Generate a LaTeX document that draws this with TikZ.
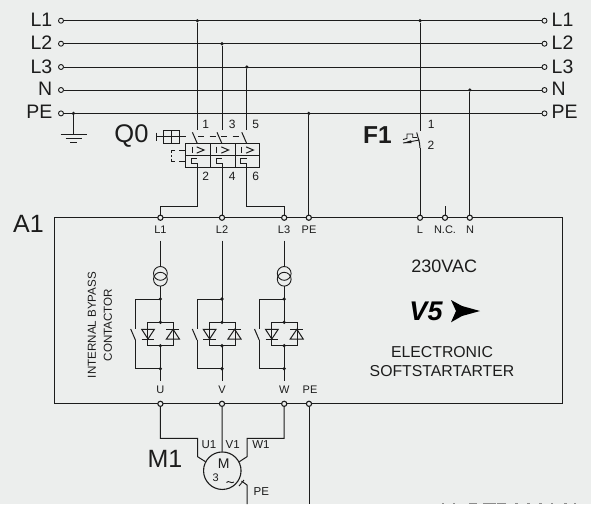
\documentclass[tikz,border=0pt]{standalone}
\usepackage{fontspec}
\setmainfont{Liberation Sans}
\definecolor{bgc}{HTML}{ECEEED}
\definecolor{ink}{HTML}{1C1C1C}
\tikzset{
 x=1pt,y=-1pt,
 wire/.style={draw=ink,line width=1pt},
 thin wire/.style={draw=ink,line width=.9pt},
 busL/.style={anchor=east,font=\fontsize{19.5}{19.5}\selectfont,text=ink,inner sep=0},
 busR/.style={anchor=west,font=\fontsize{19.5}{19.5}\selectfont,text=ink,inner sep=0},
 term/.style={circle,draw=ink,line width=.9pt,fill=bgc,minimum size=5pt,inner sep=0},
 sterm/.style={circle,draw=ink,line width=1.1pt,fill=bgc,minimum size=5.2pt,inner sep=0},
 jn/.style={circle,fill=ink,minimum size=3.6pt,inner sep=0},
 lab/.style={font=\fontsize{12}{12}\selectfont,text=ink,inner sep=0},
 tiny/.style={font=\fontsize{11}{11}\selectfont,text=ink,inner sep=0},
 big/.style={font=\fontsize{25}{25}\selectfont,text=ink,inner sep=0},
}
\begin{document}
\begin{tikzpicture}
\fill[bgc] (0,0) rectangle (591,504);
\useasboundingbox (0,0) rectangle (591,504);
% bus
\foreach \n/\y/\t/\o in {a/20.7/L1/0.7,b/43.7/L2/0.7,c/67/L3/0.5,d/90/N/1.7,e/113.4/PE/1.7}{
 \node[term] (\n l) at (61,\y) {};
 \node[term] (\n r) at (544.5,\y) {};
 \draw[wire] (\n l) -- (\n r);
 \node[busL] at (52.5,\y-\o) {\t};
 \node[busR] at (551.5,\y-\o) {\t};
}
% earth
\node[jn] (ej) at (73.4,113.4) {};
\coordinate (eg) at (73.4,134.5);
\draw[wire] (ej) -- (eg);
\draw[wire] (60.7,134.5) -- (86.7,134.5);
\draw[wire] (65.7,138.7) -- (81.7,138.7);
\draw[wire] (70,142.8) -- (77.3,142.8);
% Q0 feeds
\node[jn] (j1) at (197.4,20.7) {};
\node[jn] (j2) at (222,43.7) {};
\node[jn] (j3) at (246.8,67) {};
\coordinate (q1) at (197.4,130); \coordinate (q2) at (222,130); \coordinate (q3) at (246.8,130);
\draw[wire] (j1)--(q1); \draw[wire] (j2)--(q2); \draw[wire] (j3)--(q3);
% switches
\foreach \x in {197.4,222,246.8}{
 \draw[wire] (\x-5,132.3) -- (\x,143.7);
}
\draw[wire,dash pattern=on 6pt off 5.5pt] (198,136.8) -- (244,136.8);
\draw[wire] (156.8,132.7) -- (156.8,140.9);
\draw[wire] (156.8,136.8) -- (186,136.8);
\draw[wire] (163.3,130.7) rectangle (179,143.2);
\draw[wire] (171.2,130.7) -- (171.2,143.2);
% Q0 box
\draw[wire] (185,143.7) rectangle (259.3,167);
\draw[wire] (185,155.3) -- (259.3,155.3);
\draw[wire] (210,143.7) -- (210,167);
\draw[wire] (235,143.7) -- (235,167);
\foreach \x in {0,24.6,49.4}{
 \draw[wire] (192.3+\x,146.7)--(192.3+\x,153.3);
 \draw[wire] (196.7+\x,146.9)--(204+\x,150)--(196.7+\x,153.1);
 \draw[wire] (197.4+\x,167)--(197.4+\x,163.8)--(191.5+\x,163.8)--(191.5+\x,158.5)--(197.4+\x,158.5);
}
\draw[wire] (185,150)--(178.5,150);
\draw[wire] (185,161)--(178.5,161);
\draw[wire] (175,150)--(171,150)--(171,152.5);
\draw[wire] (171,155)--(171,157);
\draw[wire] (171,158.7)--(171,161)--(175,161);
% labels
\node[lab] at (205.8,124) {1};
\node[lab] at (232.3,124) {3};
\node[lab] at (255.8,124) {5};
\node[lab] at (205.8,176) {2};
\node[lab] at (232.3,176) {4};
\node[lab] at (255.8,176) {6};
\node[big,font=\fontsize{25.5}{25.5}\selectfont] at (131.5,136) {Q0};
\node[big,font=\bfseries\fontsize{24.5}{24.5}\selectfont] at (377.5,135) {F1};
\node[big] at (28.5,224) {A1};
\node[big] at (165,458.5) {M1};
% A1 box
\draw[wire] (54.3,217.7) -- (562.8,217.7) -- (562.8,403.8) -- (54.3,403.8) -- cycle;
% terminals top
\node[sterm] (tl1) at (160.4,217.7) {};
\node[sterm] (tl2) at (222,217.7) {};
\node[sterm] (tl3) at (284.2,217.7) {};
\node[sterm] (tpe) at (308.8,217.7) {};
\node[sterm] (tl) at (420,217.7) {};
\node[sterm] (tnc) at (445,217.7) {};
\node[sterm] (tn) at (469.8,217.7) {};
\draw[wire] (197.4,167) -- (197.4,206.5) -- (160.4,206.5) -- (tl1);
\draw[wire] (222,167) -- (tl2);
\draw[wire] (246.8,167) -- (246.8,206.5) -- (284.2,206.5) -- (tl3);
\node[jn] (jpe) at (308.8,113.4) {};
\draw[wire] (jpe) -- (tpe);
% F1
\node[jn] (jf) at (420,20.7) {};
\node[jn] (jn) at (469.8,90) {};
\draw[wire] (jf) -- (420,131);
\draw[wire] (tl) -- (420,148);
\draw[wire] (420,148) -- (419.5,143) -- (416.7,132.5);
\draw[wire] (tn) -- (jn);
\draw[wire] (tnc) -- (445,206);
\draw[thin wire] (403,139.5)--(407,138.5)--(407,134)--(412.7,134)--(412.7,137.5)--(417,137.5);
\draw[thin wire] (403,143)--(419.5,140);
\fill[ink] (404,143)--(411,140.2)--(411.5,143)--cycle;
\node[lab] at (431.3,124.7) {1};
\node[lab] at (431,145.7) {2};
\node[tiny] at (160.4,230) {L1};
\node[tiny] at (222,230) {L2};
\node[tiny] at (284,230) {L3};
\node[tiny] at (309,230) {PE};
\node[tiny] at (420,230) {L};
\node[tiny] at (445,230) {N.C.};
\node[tiny] at (470,230) {N};
% power units
\foreach \x/\l in {160.4/U,222/V,284.2/W}{
 \draw[wire] (\x,299) -- (\x,322.3);
 \draw[wire] (\x,345.7) -- (\x,381);
 \draw[wire] (\x,299) -- (\x-25,299) -- (\x-25,329.3);
 \draw[wire] (\x-25,340) -- (\x-25,368.7) -- (\x,368.7);
 \draw[wire] (\x-29.7,329) -- (\x-25,340);
 \node[jn] at (\x,299) {};
 \node[jn] at (\x,322.3) {};
 \node[jn] at (\x,345.7) {};
 \node[jn] at (\x,368.7) {};
 \draw[wire] (\x-13,322.3) -- (\x+13,322.3) -- (\x+13,345.7) -- (\x-13,345.7) -- cycle;
 \draw[wire] (\x-18.7,329.3) -- (\x-6,329.3) -- (\x-12.4,339) -- cycle;
 \draw[wire] (\x-18.7,339) -- (\x-6,339);
 \draw[wire] (\x+6,339) -- (\x+19,339) -- (\x+12.7,329.3) -- cycle;
 \draw[wire] (\x+6,329.3) -- (\x+19,329.3);
 \node[tiny] at (\x,390) {\l};
}
\draw[wire] (222,240.5) -- (222,299);
% current transformers on L1 and L3
\foreach \x in {160.4,284.2}{
 \draw[wire] (\x,240.5) -- (\x,266.5);
 \draw[wire] (\x,286) -- (\x,299);
 \draw[thin wire] (\x,273.4) circle (6.9);
 \draw[thin wire] (\x,279.2) circle (6.9);
}
\node[font=\fontsize{11.6}{16}\selectfont,text=ink,inner sep=0,align=center,rotate=90] at (100,325) {INTERNAL BYPASS\\CONTACTOR};
\node[font=\fontsize{18}{18}\selectfont,text=ink,inner sep=0] at (444.3,266.7) {230VAC};
\node[font=\bfseries\itshape\fontsize{27}{27}\selectfont,text=black,inner sep=0] at (426,311) {V5};
\fill[black] (451,300) -- (462,306) -- (480,311) -- (462,316) -- (451,322.3) -- (456,311) -- cycle;
\node[font=\fontsize{15.8}{18.7}\selectfont,text=ink,inner sep=0,align=center] at (442,361.5) {ELECTRONIC\\SOFTSTARTARTER};
\node[tiny] at (310,390) {PE};
% bottom terminals
\node[sterm] (bu) at (160.4,403.8) {};
\node[sterm] (bv) at (222,403.8) {};
\node[sterm] (bw) at (284.2,403.8) {};
\node[sterm] (bpe) at (309,403.8) {};
% motor
\node[circle,draw=ink,line width=1.1pt,minimum size=37.5pt,inner sep=0] (m) at (222.3,470.7) {};
\node[font=\fontsize{14}{14}\selectfont,text=ink,inner sep=0] at (223.7,464) {M};
\node[tiny] at (215.7,477.3) {3};
\draw[thin wire] (226.5,482.5) .. controls (229,479.5) and (231,484.5) .. (234,482);
\draw[wire] (bu) -- (160.4,438.3) -- (197.6,438.3) -- (197.6,456.7) -- (205.5,461.7);
\draw[wire] (bv) -- (m);
\draw[wire] (bw) -- (284.2,438.3) -- (247,438.3) -- (247,456.7) -- (239.3,461.7);
\draw[wire] (241.5,481) -- (247,485) -- (247,504);
\draw[thin wire] (239,486) -- (244,480);
\draw[wire] (bpe) -- (309,504);
\node[tiny,font=\fontsize{11.5}{11.5}\selectfont] at (209,445) {U1};
\node[tiny,font=\fontsize{11.5}{11.5}\selectfont] at (232.7,445) {V1};
\node[tiny,font=\fontsize{11.5}{11.5}\selectfont] at (261,445) {W1};
\node[tiny,font=\fontsize{11.5}{11.5}\selectfont] at (261.3,491.7) {PE};
% clipped tops of the caption at the lower edge
\foreach \a/\b in {441.7/443.7,452.5/454.5,469/477.3,483.3/495.7,497.3/506,515/517.7,527.3/529.7,539/541.7,551/553.3,564/566.7,574/576}{
 \fill[black!45] (\a,502.6) rectangle (\b,504);
}
\end{tikzpicture}
\end{document}
